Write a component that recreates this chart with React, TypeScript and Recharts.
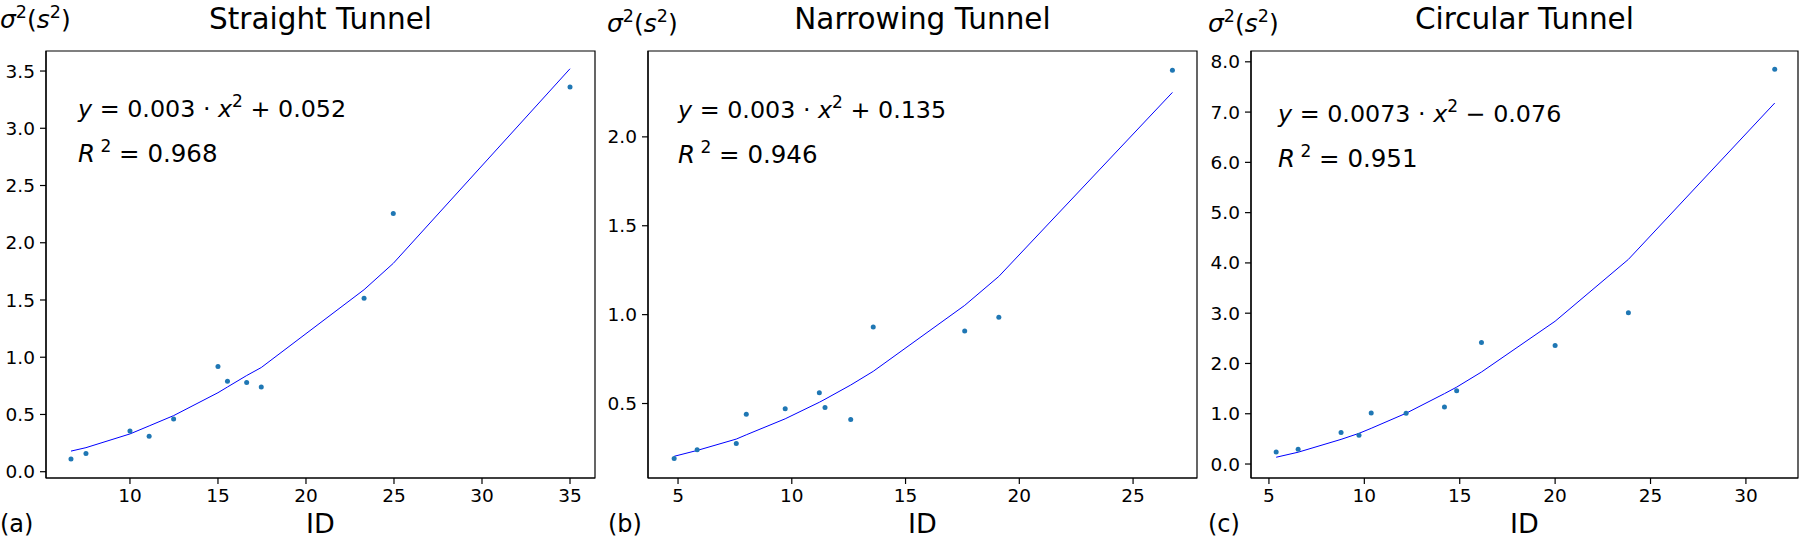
import React from 'react';
import {
  ComposedChart,
  Line,
  Scatter,
  XAxis,
  YAxis,
  ReferenceArea,
} from 'recharts';

// Straight tunnel
const straightId = [6.65, 7.5, 10.0, 11.09, 12.48, 15.0, 15.54, 16.63, 17.46, 23.3, 24.96, 35.0];
const straightVar = [0.11, 0.16, 0.355, 0.31, 0.46, 0.92, 0.79, 0.78, 0.74, 1.515, 2.255, 3.36];
const straightFit = [0.18, 0.21, 0.33, 0.4, 0.49, 0.69, 0.74, 0.84, 0.91, 1.59, 1.82, 3.52];

// Narrowing tunnel
const narrowId = [4.83, 5.84, 7.56, 8.0, 9.71, 11.21, 11.46, 12.59, 13.58, 17.6, 19.1, 26.73];
const narrowVar = [0.19, 0.24, 0.275, 0.44, 0.47, 0.56, 0.477, 0.41, 0.931, 0.908, 0.985, 2.375];
const narrowFit = [0.203, 0.236, 0.3, 0.324, 0.414, 0.507, 0.524, 0.604, 0.681, 1.052, 1.215, 2.25];

// Circular tunnel
const circId = [5.38, 6.53, 8.78, 9.72, 10.36, 12.19, 14.2, 14.84, 16.14, 20.0, 23.84, 31.51];
const circVar = [0.24, 0.295, 0.625, 0.57, 1.016, 1.01, 1.133, 1.456, 2.418, 2.356, 3.008, 7.85];
const circFit = [0.135, 0.235, 0.49, 0.61, 0.71, 1.01, 1.4, 1.53, 1.83, 2.84, 4.07, 7.18];

const straightXTicks = [10, 15, 20, 25, 30, 35];
const straightYTicks = [0, 0.5, 1.0, 1.5, 2.0, 2.5, 3.0, 3.5];
const narrowXTicks = [5, 10, 15, 20, 25];
const narrowYTicks = [0.5, 1.0, 1.5, 2.0];
const circXTicks = [5, 10, 15, 20, 25, 30];
const circYTicks = [0, 1, 2, 3, 4, 5, 6, 7, 8];

const titles = ['Straight Tunnel', 'Narrowing Tunnel', 'Circular Tunnel'];
const panelTags = ['(a)', '(b)', '(c)'];
const coefs = ['0.003', '0.003', '0.0073'];
const consts = ['+ 0.052', '+ 0.135', '\u2212 0.076'];
const r2 = ['0.968', '0.946', '0.951'];

const FONT = '"DejaVu Sans", sans-serif';
const DOT = '#1f77b4';
const FIT = '#0000ff';

const rows = (ids: number[], v: number[], f: number[]) =>
  ids.map((x, i) => ({ x, y: v[i], fit: f[i] }));

const panels = [
  {
    left: 0, yw: 46, right: 5,
    data: rows(straightId, straightVar, straightFit),
    xd: [5.23, 36.42], yd: [-0.055, 3.675],
    xt: straightXTicks, yt: straightYTicks,
  },
  {
    left: 600, yw: 48, right: 3,
    data: rows(narrowId, narrowVar, narrowFit),
    xd: [3.68, 27.81], yd: [0.081, 2.483],
    xt: narrowXTicks, yt: narrowYTicks,
  },
  {
    left: 1200, yw: 51, right: 2,
    data: rows(circId, circVar, circFit),
    xd: [4.06, 32.73], yd: [-0.278, 8.215],
    xt: circXTicks, yt: circYTicks,
  },
];

const tickStyle = { fill: '#000', fontSize: 18.5, fontFamily: FONT };
const lineStyle = { stroke: '#000', strokeWidth: 1.2 };

const Dot = (props: any) => {
  const { cx, cy } = props;
  if (cx == null || cy == null) return null;
  return <circle cx={cx} cy={cy} r={2.5} fill={DOT} />;
};

function Panel({ p }: { p: typeof panels[number] }) {
  return (
    <div style={{ position: 'absolute', left: p.left, top: 0 }}>
      <ComposedChart
        width={600}
        height={541}
        data={p.data}
        margin={{ top: 51, right: p.right, bottom: 0, left: 0 }}
      >
        <XAxis
          type="number"
          dataKey="x"
          domain={p.xd}
          ticks={p.xt}
          allowDataOverflow
          height={63}
          tick={tickStyle}
          tickSize={6}
          tickMargin={5}
          tickLine={lineStyle}
          axisLine={lineStyle}
        />
        <YAxis
          type="number"
          domain={p.yd}
          ticks={p.yt}
          allowDataOverflow
          width={p.yw}
          tick={tickStyle}
          tickSize={6}
          tickMargin={5}
          tickLine={lineStyle}
          axisLine={lineStyle}
          tickFormatter={(v: number) => v.toFixed(1)}
        />
        <ReferenceArea
          x1={p.xd[0]}
          x2={p.xd[1]}
          y1={p.yd[0]}
          y2={p.yd[1]}
          fill="none"
          stroke="#000"
          strokeWidth={1.2}
          ifOverflow="visible"
        />
        <Line
          type="linear"
          dataKey="fit"
          stroke={FIT}
          strokeWidth={1}
          dot={false}
          activeDot={false}
          isAnimationActive={false}
        />
        <Scatter dataKey="y" fill={DOT} shape={<Dot />} isAnimationActive={false} />
      </ComposedChart>
    </div>
  );
}

// positions of the text overlay, per panel
const frameCenters = [320.5, 922.5, 1524.5];
const sigmaX = [0, 607, 1208];
const sigmaY = [28, 32, 32];
const tagX = [0, 608, 1208];
const eqX = [78, 678, 1278];
const eqY = [117, 118, 122];

function Overlay() {
  return (
    <svg
      width={1800}
      height={541}
      style={{ position: 'absolute', left: 0, top: 0, pointerEvents: 'none' }}
      fontFamily={FONT}
      fill="#000"
    >
      {titles.map((t, i) => (
        <g key={t}>
          <text x={frameCenters[i]} y={28.5} fontSize={29.5} textAnchor="middle">
            {t}
          </text>
          <text x={frameCenters[i]} y={533} fontSize={27} textAnchor="middle">
            ID
          </text>
          <text x={tagX[i]} y={532} fontSize={24}>
            {panelTags[i]}
          </text>
          <text x={sigmaX[i]} y={sigmaY[i]} fontSize={25}>
            <tspan fontStyle="italic">σ</tspan>
            <tspan fontSize={17.5} dy={-10}>2</tspan>
            <tspan dy={10}>(</tspan>
            <tspan fontStyle="italic">s</tspan>
            <tspan fontSize={17.5} dy={-10}>2</tspan>
            <tspan dy={10}>)</tspan>
          </text>
          <text x={eqX[i]} y={eqY[i]} fontSize={23.8}>
            <tspan fontStyle="italic">y</tspan>
            <tspan> = {coefs[i]} · </tspan>
            <tspan fontStyle="italic">x</tspan>
            <tspan fontSize={17} dy={-10}>2</tspan>
            <tspan dy={10}> {consts[i]}</tspan>
          </text>
          <text x={eqX[i]} y={eqY[i] + 45} fontSize={24.5}>
            <tspan fontStyle="italic">R</tspan>
            <tspan fontSize={17} dy={-10}> 2</tspan>
            <tspan dy={10}> = {r2[i]}</tspan>
          </text>
        </g>
      ))}
    </svg>
  );
}

export default function App() {
  return (
    <div
      style={{
        position: 'absolute',
        left: 0,
        top: 0,
        width: 1800,
        height: 541,
        background: '#fff',
        overflow: 'hidden',
      }}
    >
      {panels.map((p, i) => (
        <Panel key={i} p={p} />
      ))}
      <Overlay />
    </div>
  );
}
